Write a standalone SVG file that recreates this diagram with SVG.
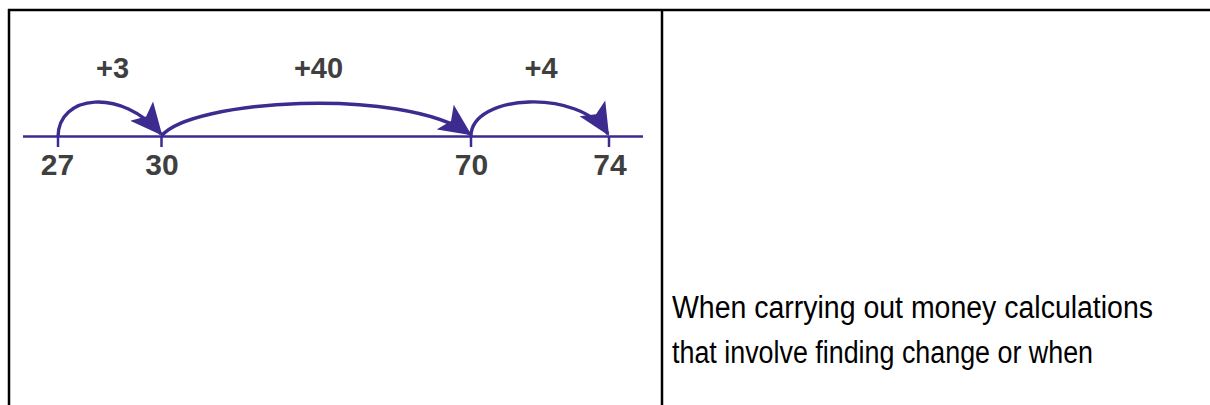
<svg xmlns="http://www.w3.org/2000/svg" width="1210" height="405" viewBox="0 0 1210 405">
  <style>
    .border { stroke: #000; stroke-width: 2.5; fill: none; }
    .axis { stroke: #3d2b8f; stroke-width: 2.5; fill: none; }
    .jump { stroke: #3d2b8f; stroke-width: 3.4; fill: none; marker-end: url(#head); }
    .num { font-family: "Liberation Sans", Arial, sans-serif; font-weight: bold; font-size: 30px; fill: #3f3f3f; text-anchor: middle; }
    .step { font-family: "Liberation Sans", Arial, sans-serif; font-weight: bold; font-size: 29px; fill: #3f3f3f; text-anchor: middle; }
    .note { font-family: "Comic Sans MS", "Liberation Sans", sans-serif; font-size: 31px; fill: #000; }
  </style>
  <defs>
    <marker id="head" markerUnits="userSpaceOnUse" viewBox="0 0 32 32" refX="30" refY="16" markerWidth="32" markerHeight="32" orient="auto">
      <path d="M0,1 L32,16 L0,31 L7,16 Z" fill="#3d2b8f"/>
    </marker>
  </defs>
  <rect width="1210" height="405" fill="#fff"/>
  <g id="table">
    <line class="border" x1="8" y1="10" x2="1210" y2="10"/>
    <line class="border" x1="9" y1="9" x2="9" y2="405"/>
    <line class="border" x1="662" y1="9" x2="662" y2="405"/>
  </g>
  <g id="numberline">
    <line class="axis" x1="23" y1="136.5" x2="643" y2="136.5"/>
    <line class="axis" x1="58" y1="136" x2="58" y2="147"/>
    <line class="axis" x1="161.5" y1="136" x2="161.5" y2="147"/>
    <line class="axis" x1="471" y1="136" x2="471" y2="147"/>
    <line class="axis" x1="609" y1="136" x2="609" y2="147"/>
  </g>
  <g id="connectors">
    <path class="jump" d="M58,137 C58,94 122,88 161,134"/>
    <path class="jump" d="M161.5,136 C190,100 400,86 470,134"/>
    <path class="jump" d="M471,136 C471,94 580,88 608,134"/>
  </g>
  <g id="labels">
    <text class="num" x="57.5" y="175">27</text>
    <text class="num" x="162" y="175">30</text>
    <text class="num" x="471.5" y="175">70</text>
    <text class="num" x="610" y="175">74</text>
    <text class="step" x="112.5" y="78">+3</text>
    <text class="step" x="318.5" y="78">+40</text>
    <text class="step" x="541" y="78">+4</text>
  </g>
  <g id="note">
    <text class="note" x="672" y="318" textLength="481" lengthAdjust="spacingAndGlyphs">When carrying out money calculations</text>
    <text class="note" x="672" y="363" textLength="421" lengthAdjust="spacingAndGlyphs">that involve finding change or when</text>
  </g>
</svg>
